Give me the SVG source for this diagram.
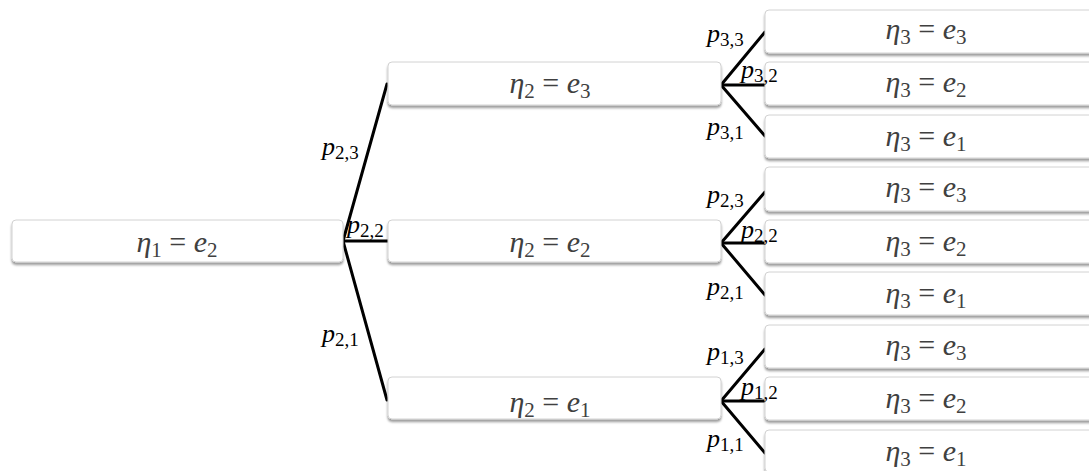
<svg xmlns="http://www.w3.org/2000/svg" width="1089" height="471" viewBox="0 0 1089 471">
<defs>
<filter id="sh" x="-5%" y="-20%" width="110%" height="160%">
<feDropShadow dx="0" dy="2.5" stdDeviation="1.3" flood-color="#000" flood-opacity="0.4"/>
</filter>
<style>
.box{fill:#fff;stroke:#d2d2d2;stroke-width:1;filter:url(#sh)}
.bt{font-family:"Liberation Serif",serif;font-size:30px;fill:#404040;text-anchor:middle}
.bt .s{font-size:21px}
.lb{font-family:"Liberation Serif",serif;font-size:26px;fill:#000}
.lb .s{font-size:19px}
.i{font-style:italic}
.c line{stroke:#000;stroke-width:3;stroke-linecap:round}
</style>
</defs>
<rect width="1089" height="471" fill="#fff"/>

<g class="c" id="connectors">
<line x1="343" y1="241" x2="387" y2="84"/>
<line x1="343" y1="241" x2="388" y2="241"/>
<line x1="343" y1="241" x2="387" y2="400"/>
<line x1="721" y1="85" x2="765" y2="32"/>
<line x1="721" y1="85" x2="765" y2="85"/>
<line x1="721" y1="85" x2="765" y2="136"/>
<line x1="721" y1="243" x2="765" y2="192"/>
<line x1="721" y1="243" x2="765" y2="243"/>
<line x1="721" y1="243" x2="765" y2="295"/>
<line x1="721" y1="401" x2="765" y2="349"/>
<line x1="721" y1="401" x2="765" y2="401"/>
<line x1="721" y1="401" x2="765" y2="453"/>
</g>

<g id="n_root">
<rect class="box" x="12" y="220" width="331" height="42" rx="4"/>
<text class="bt" x="177" y="252"><tspan class="i">η</tspan><tspan class="s" dy="5">1</tspan><tspan dy="-5"> = </tspan><tspan class="i">e</tspan><tspan class="s" dy="5">2</tspan></text>
</g>

<g id="n_l2_e3">
<rect class="box" x="388" y="62" width="333" height="43" rx="4"/>
<text class="bt" x="550" y="93"><tspan class="i">η</tspan><tspan class="s" dy="5">2</tspan><tspan dy="-5"> = </tspan><tspan class="i">e</tspan><tspan class="s" dy="5">3</tspan></text>
</g>
<g id="n_l2_e2">
<rect class="box" x="388" y="220" width="333" height="42" rx="4"/>
<text class="bt" x="550" y="252"><tspan class="i">η</tspan><tspan class="s" dy="5">2</tspan><tspan dy="-5"> = </tspan><tspan class="i">e</tspan><tspan class="s" dy="5">2</tspan></text>
</g>
<g id="n_l2_e1">
<rect class="box" x="388" y="377" width="333" height="42" rx="4"/>
<text class="bt" x="550" y="412"><tspan class="i">η</tspan><tspan class="s" dy="5">2</tspan><tspan dy="-5"> = </tspan><tspan class="i">e</tspan><tspan class="s" dy="5">1</tspan></text>
</g>

<g id="n_g1_e3">
<rect class="box" x="765" y="10" width="330" height="43" rx="4"/>
<text class="bt" x="926" y="39"><tspan class="i">η</tspan><tspan class="s" dy="5">3</tspan><tspan dy="-5"> = </tspan><tspan class="i">e</tspan><tspan class="s" dy="5">3</tspan></text>
</g>
<g id="n_g1_e2">
<rect class="box" x="765" y="62" width="330" height="43" rx="4"/>
<text class="bt" x="926" y="92"><tspan class="i">η</tspan><tspan class="s" dy="5">3</tspan><tspan dy="-5"> = </tspan><tspan class="i">e</tspan><tspan class="s" dy="5">2</tspan></text>
</g>
<g id="n_g1_e1">
<rect class="box" x="765" y="115" width="330" height="43" rx="4"/>
<text class="bt" x="926" y="146"><tspan class="i">η</tspan><tspan class="s" dy="5">3</tspan><tspan dy="-5"> = </tspan><tspan class="i">e</tspan><tspan class="s" dy="5">1</tspan></text>
</g>

<g id="n_g2_e3">
<rect class="box" x="765" y="167" width="330" height="44" rx="4"/>
<text class="bt" x="926" y="197"><tspan class="i">η</tspan><tspan class="s" dy="5">3</tspan><tspan dy="-5"> = </tspan><tspan class="i">e</tspan><tspan class="s" dy="5">3</tspan></text>
</g>
<g id="n_g2_e2">
<rect class="box" x="765" y="220" width="330" height="43" rx="4"/>
<text class="bt" x="926" y="251"><tspan class="i">η</tspan><tspan class="s" dy="5">3</tspan><tspan dy="-5"> = </tspan><tspan class="i">e</tspan><tspan class="s" dy="5">2</tspan></text>
</g>
<g id="n_g2_e1">
<rect class="box" x="765" y="272" width="330" height="43" rx="4"/>
<text class="bt" x="926" y="303"><tspan class="i">η</tspan><tspan class="s" dy="5">3</tspan><tspan dy="-5"> = </tspan><tspan class="i">e</tspan><tspan class="s" dy="5">1</tspan></text>
</g>

<g id="n_g3_e3">
<rect class="box" x="765" y="325" width="330" height="43" rx="4"/>
<text class="bt" x="926" y="355"><tspan class="i">η</tspan><tspan class="s" dy="5">3</tspan><tspan dy="-5"> = </tspan><tspan class="i">e</tspan><tspan class="s" dy="5">3</tspan></text>
</g>
<g id="n_g3_e2">
<rect class="box" x="765" y="377" width="330" height="43" rx="4"/>
<text class="bt" x="926" y="408"><tspan class="i">η</tspan><tspan class="s" dy="5">3</tspan><tspan dy="-5"> = </tspan><tspan class="i">e</tspan><tspan class="s" dy="5">2</tspan></text>
</g>
<g id="n_g3_e1">
<rect class="box" x="765" y="430" width="330" height="42" rx="4"/>
<text class="bt" x="926" y="461"><tspan class="i">η</tspan><tspan class="s" dy="5">3</tspan><tspan dy="-5"> = </tspan><tspan class="i">e</tspan><tspan class="s" dy="5">1</tspan></text>
</g>

<g id="labels">
<text class="lb" x="322" y="155"><tspan class="i">p</tspan><tspan class="s" dy="4">2,3</tspan></text>
<text class="lb" x="347" y="233"><tspan class="i">p</tspan><tspan class="s" dy="4">2,2</tspan></text>
<text class="lb" x="322" y="342"><tspan class="i">p</tspan><tspan class="s" dy="4">2,1</tspan></text>
<text class="lb" x="707" y="42"><tspan class="i">p</tspan><tspan class="s" dy="4">3,3</tspan></text>
<text class="lb" x="741" y="78"><tspan class="i">p</tspan><tspan class="s" dy="4">3,2</tspan></text>
<text class="lb" x="707" y="135"><tspan class="i">p</tspan><tspan class="s" dy="4">3,1</tspan></text>
<text class="lb" x="707" y="203"><tspan class="i">p</tspan><tspan class="s" dy="4">2,3</tspan></text>
<text class="lb" x="741" y="238"><tspan class="i">p</tspan><tspan class="s" dy="4">2,2</tspan></text>
<text class="lb" x="707" y="295"><tspan class="i">p</tspan><tspan class="s" dy="4">2,1</tspan></text>
<text class="lb" x="707" y="360"><tspan class="i">p</tspan><tspan class="s" dy="4">1,3</tspan></text>
<text class="lb" x="741" y="395"><tspan class="i">p</tspan><tspan class="s" dy="4">1,2</tspan></text>
<text class="lb" x="707" y="447"><tspan class="i">p</tspan><tspan class="s" dy="4">1,1</tspan></text>
</g>
</svg>
